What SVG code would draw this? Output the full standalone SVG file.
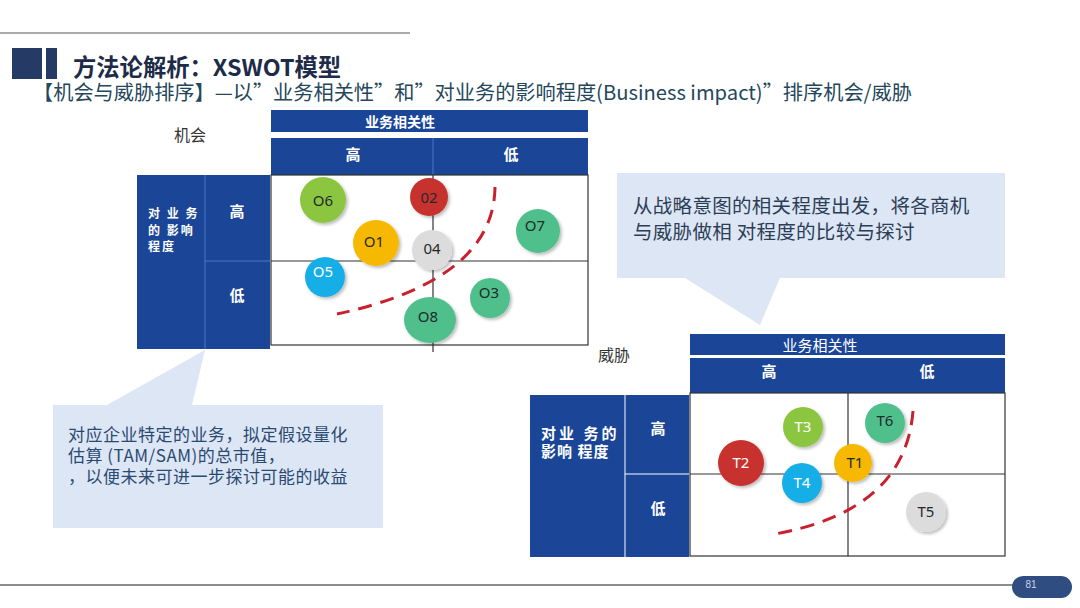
<svg xmlns="http://www.w3.org/2000/svg" width="1080" height="608" viewBox="0 0 1080 608">
<defs>
<style>
.cjk{font-family:"Noto Sans CJK SC","Noto Sans",sans-serif}
.hdr{fill:#1b4597}
.wb{fill:#ffffff;font-weight:bold;font-family:"Noto Sans CJK SC","Noto Sans",sans-serif}
.grid{fill:#ffffff;stroke:#333;stroke-width:1.2}
.gl{stroke:#333;stroke-width:1.2}
.lbl{font-family:"Noto Sans","Noto Sans CJK SC",sans-serif;font-size:15px;fill:#1f2a2a;text-anchor:middle}
.lblw{font-family:"Noto Sans","Noto Sans CJK SC",sans-serif;font-size:15px;fill:#ffffff;text-anchor:middle}
.dash{fill:none;stroke:#c8202c;stroke-width:3;stroke-dasharray:14 9}
.call{fill:#dde6f5}
.ct{font-family:"Noto Sans CJK SC","Noto Sans",sans-serif;fill:#2c3e55}
</style>
<filter id="sh" x="-30%" y="-30%" width="160%" height="160%">
<feDropShadow dx="2" dy="2" stdDeviation="1.5" flood-color="#000" flood-opacity="0.25"/>
</filter>
</defs>
<rect width="1080" height="608" fill="#ffffff"/>

<!-- header -->
<g id="header">
<line x1="0" y1="33" x2="410" y2="33" stroke="#555" stroke-width="1"/>
<rect x="12" y="48" width="30" height="31" fill="#263a66"/>
<rect x="46" y="48" width="11" height="31" fill="#263a66"/>
<text x="73" y="76" class="cjk" font-size="23.3" font-weight="bold" fill="#1e2b48">方法论解析：XSWOT模型</text>
<text x="33" y="100" class="cjk" font-size="20.2" fill="#24475c">【机会与威胁排序】—以”业务相关性”和”对业务的影响程度(Business impact)”排序机会/威胁</text>
</g>

<!-- top matrix: 机会 -->
<g id="opp-matrix">
<text x="174" y="141" class="cjk" font-size="16" fill="#333">机会</text>
<rect x="271" y="110" width="317" height="22" class="hdr"/>
<text x="400" y="127" class="wb" font-size="14" text-anchor="middle">业务相关性</text>
<rect x="271" y="138" width="317" height="37" class="hdr"/>
<line x1="433" y1="138" x2="433" y2="175" stroke="#4a78c8" stroke-width="1"/>
<text x="353" y="160" class="wb" font-size="15" text-anchor="middle">高</text>
<text x="511" y="160" class="wb" font-size="15" text-anchor="middle">低</text>
<rect x="137" y="175" width="133" height="174" class="hdr"/>
<line x1="205" y1="175" x2="205" y2="349" stroke="#4a78c8" stroke-width="1"/>
<line x1="205" y1="261" x2="270" y2="261" stroke="#4a78c8" stroke-width="1"/>
<text x="148" y="218" class="wb" font-size="12" letter-spacing="2">对 业 务</text>
<text x="148" y="234.5" class="wb" font-size="12" letter-spacing="2">的 影响</text>
<text x="148" y="251" class="wb" font-size="12" letter-spacing="2">程度</text>
<text x="237" y="217" class="wb" font-size="15" text-anchor="middle">高</text>
<text x="237" y="301" class="wb" font-size="15" text-anchor="middle">低</text>
<rect x="271" y="175" width="317" height="170" class="grid"/>
<line x1="271" y1="261" x2="588" y2="261" class="gl"/>
<line x1="433" y1="175" x2="433" y2="352" class="gl"/>
</g>

<g id="O6"><circle cx="323" cy="200" r="23" fill="#8cc63f" filter="url(#sh)"/><text x="323" y="206" class="lbl">O6</text></g>
<g id="O2"><circle cx="429" cy="197" r="19" fill="#c8302e" filter="url(#sh)"/><text x="429" y="203" class="lbl">02</text></g>
<g id="O7"><circle cx="538" cy="231" r="22" fill="#50c08c" filter="url(#sh)"/><text x="535" y="231" class="lbl">O7</text></g>
<g id="O1"><circle cx="376" cy="243" r="23" fill="#f6b800" filter="url(#sh)"/><text x="374" y="247" class="lbl">O1</text></g>
<g id="O4"><circle cx="432" cy="250" r="20" fill="#dcdcdc" filter="url(#sh)"/><text x="432" y="254" class="lbl">04</text></g>
<g id="O5"><circle cx="325" cy="277" r="20" fill="#19aee6" filter="url(#sh)"/><text x="323" y="277" class="lblw">O5</text></g>
<g id="O3"><circle cx="490" cy="298" r="20" fill="#50c08c" filter="url(#sh)"/><text x="489" y="298" class="lbl">O3</text></g>
<g id="O8"><ellipse cx="430" cy="320" rx="26" ry="23" fill="#50c08c" filter="url(#sh)"/><text x="428" y="322" class="lbl">O8</text></g>

<!-- bottom matrix: 威胁 -->
<g id="threat-matrix">
<text x="598" y="361" class="cjk" font-size="16" fill="#333">威胁</text>
<rect x="690" y="334" width="315" height="21" class="hdr"/>
<text x="820" y="351" class="cjk" font-size="15" fill="#ffffff" text-anchor="middle">业务相关性</text>
<rect x="690" y="358" width="315" height="35" class="hdr"/>
<text x="769" y="377" class="wb" font-size="15" text-anchor="middle">高</text>
<text x="927" y="377" class="wb" font-size="15" text-anchor="middle">低</text>
<rect x="530" y="395" width="159" height="162" class="hdr"/>
<line x1="625" y1="395" x2="625" y2="557" stroke="#ffffff" stroke-width="1"/>
<line x1="625" y1="474" x2="689" y2="474" stroke="#ffffff" stroke-width="1"/>
<text x="541" y="439" class="wb" font-size="15" letter-spacing="3">对业 务的</text>
<text x="541" y="457" class="wb" font-size="15" letter-spacing="1">影响 程度</text>
<text x="658" y="434" class="wb" font-size="15" text-anchor="middle">高</text>
<text x="658" y="514" class="wb" font-size="15" text-anchor="middle">低</text>
<rect x="690" y="393" width="315" height="163" class="grid"/>
<line x1="690" y1="474" x2="1005" y2="474" class="gl"/>
<line x1="848" y1="393" x2="848" y2="556" class="gl"/>
</g>

<g id="T3"><circle cx="803" cy="427" r="20" fill="#8cc63f" filter="url(#sh)"/><text x="803" y="432" class="lblw">T3</text></g>
<g id="T6"><circle cx="885" cy="423" r="20" fill="#50c08c" filter="url(#sh)"/><text x="885" y="426" class="lbl">T6</text></g>
<g id="T2"><circle cx="741" cy="463" r="23" fill="#c8302e" filter="url(#sh)"/><text x="741" y="468" class="lblw">T2</text></g>
<g id="T1"><circle cx="853" cy="463" r="19" fill="#f6b800" filter="url(#sh)"/><text x="855" y="468" class="lbl">T1</text></g>
<g id="T4"><circle cx="802" cy="483" r="20" fill="#19aee6" filter="url(#sh)"/><text x="802" y="488" class="lblw">T4</text></g>
<g id="T5"><circle cx="926" cy="512" r="20" fill="#dcdcdc" filter="url(#sh)"/><text x="926" y="517" class="lbl">T5</text></g>

<g id="connectors">
<path d="M495 187 Q494 280 337 314" class="dash"/>
<path d="M913 411 Q905 513 769 535" class="dash"/>
</g>

<!-- callouts -->
<g id="callout-right">
<path d="M617 173 H1005 V278 H780 L760 325 L685 278 H617 Z" class="call"/>
<text x="633" y="213" class="ct" font-size="19.5" letter-spacing="0.3">从战略意图的相关程度出发，将各商机</text>
<text x="633" y="239" class="ct" font-size="19.5" letter-spacing="0.3">与威胁做相 对程度的比较与探讨</text>
</g>
<g id="callout-left">
<path d="M53 405 H107 L205 350 L192 405 H383 V528 H53 Z" class="call"/>
<text x="68" y="441" class="ct" font-size="17" letter-spacing="0.5" style="fill:#2a4a72">对应企业特定的业务，拟定假设量化</text>
<text x="68" y="462" class="ct" font-size="17" letter-spacing="0.5" style="fill:#2a4a72">估算 (TAM/SAM)的总市值，</text>
<text x="68" y="483" class="ct" font-size="17" letter-spacing="0.5" style="fill:#2a4a72">，以便未来可进一步探讨可能的收益</text>
</g>

<!-- footer -->
<g id="footer">
<line x1="0" y1="585" x2="1014" y2="585" stroke="#666" stroke-width="1.3"/>
<rect x="1012" y="576" width="60" height="22" rx="11" fill="#2f4d80"/>
<text x="1031" y="588" font-family="Liberation Sans,sans-serif" font-size="10" fill="#c8d4ea" text-anchor="middle">81</text>
</g>
</svg>
